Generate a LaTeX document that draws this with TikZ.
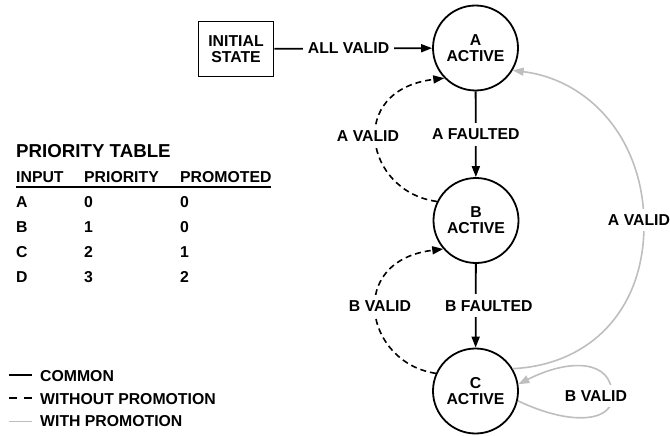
\documentclass[tikz,border=0pt]{standalone}
\usepackage{fontspec}
\setmainfont{Liberation Sans}
\usetikzlibrary{arrows.meta}
\definecolor{promogray}{RGB}{190,190,190}
\begin{document}
\begin{tikzpicture}[x=1pt,y=-1pt,
  every node/.style={font=\fontsize{15.8}{16}\selectfont\bfseries},
  state/.style={draw, circle, line width=1.8pt, minimum size=85pt, inner sep=0pt, align=center},
  initbox/.style={draw, line width=1.8pt, minimum width=75pt, minimum height=55pt, inner sep=0pt, align=center},
  lbl/.style={fill=white, inner xsep=5pt, inner ysep=6pt},
  common/.style={line width=1.8pt},
  nopromo/.style={line width=1.6pt, dash pattern=on 6pt off 4pt},
  withpromo/.style={line width=1.6pt, draw=promogray},
  arr/.style={-{Triangle[length=11pt,width=8pt]}},
  txt/.style={anchor=west, inner sep=0pt},
]
\useasboundingbox (0,0) rectangle (670,436);

% states
\node[initbox] (init) at (236,49) {INITIAL\\STATE};
\node[state] (A) at (475.5,48) {A\\ACTIVE};
\node[state] (B) at (476,220.5) {B\\ACTIVE};
\node[state] (C) at (475.5,391) {C\\ACTIVE};

% common transitions
\draw[common,arr] (init) -- node[lbl,pos=0.47] {ALL VALID} (A);
\draw[common,arr] (A) -- node[lbl] {A FAULTED} (B);
\draw[common,arr] (B) -- node[lbl,xshift=13pt] {B FAULTED} (C);

% without promotion
\draw[nopromo,arr] (B.154) .. controls (365,192) and (345,90) .. (A.224);
\node[lbl] (avalid1) at (368,136) {A VALID};
\draw[nopromo,arr] (C.156) .. controls (365,363) and (345,261) .. (B.221);
\node[lbl] (bvalid1) at (380,306) {B VALID};

% with promotion
\draw[withpromo,arr] (C.31) .. controls (590,365) and (644,310) .. (644,225)
  .. controls (644,140) and (590,80) .. (A.-31);
\node[lbl] (avalid2) at (639,220) {A VALID};
\draw[withpromo,arr] (C.-13) .. controls (575,428) and (615,420) .. (612,395)
  .. controls (612,360) and (570,358) .. (C.9);
\node[lbl] (bvalid2) at (596,396) {B VALID};

% priority table
\node[txt,font=\fontsize{18.7}{19}\selectfont\bfseries] (title) at (16,151) {PRIORITY TABLE};
\node[txt] (h1) at (16,177) {INPUT};
\node[txt] (h2) at (84,177) {PRIORITY};
\node[txt] (h3) at (180,177) {PROMOTED};
\coordinate (ul1) at (16,187);
\coordinate (ul2) at (271,187);
\draw[line width=1.8pt] (ul1) -- (ul2);
\node[txt] (ra1) at (16,202) {A};
\node[txt] (ra2) at (84,202) {0};
\node[txt] (ra3) at (180,202) {0};
\node[txt] (rb1) at (16,227) {B};
\node[txt] (rb2) at (84,227) {1};
\node[txt] (rb3) at (180,227) {0};
\node[txt] (rc1) at (16,252) {C};
\node[txt] (rc2) at (84,252) {2};
\node[txt] (rc3) at (180,252) {1};
\node[txt] (rd1) at (16,277) {D};
\node[txt] (rd2) at (84,277) {3};
\node[txt] (rd3) at (180,277) {2};

% legend
\coordinate (l1a) at (9,375);  \coordinate (l1b) at (32,375);
\coordinate (l2a) at (9,398);  \coordinate (l2b) at (32,398);
\coordinate (l3a) at (9,421.5);  \coordinate (l3b) at (32,421.5);
\draw[common] (l1a) -- (l1b);
\draw[line width=1.6pt, dash pattern=on 8pt off 7pt] (l2a) -- (l2b);
\draw[withpromo] (l3a) -- (l3b);
\node[txt] (lg1) at (40,376) {COMMON};
\node[txt] (lg2) at (40,399) {WITHOUT PROMOTION};
\node[txt] (lg3) at (40,421) {WITH PROMOTION};
\end{tikzpicture}
\end{document}
